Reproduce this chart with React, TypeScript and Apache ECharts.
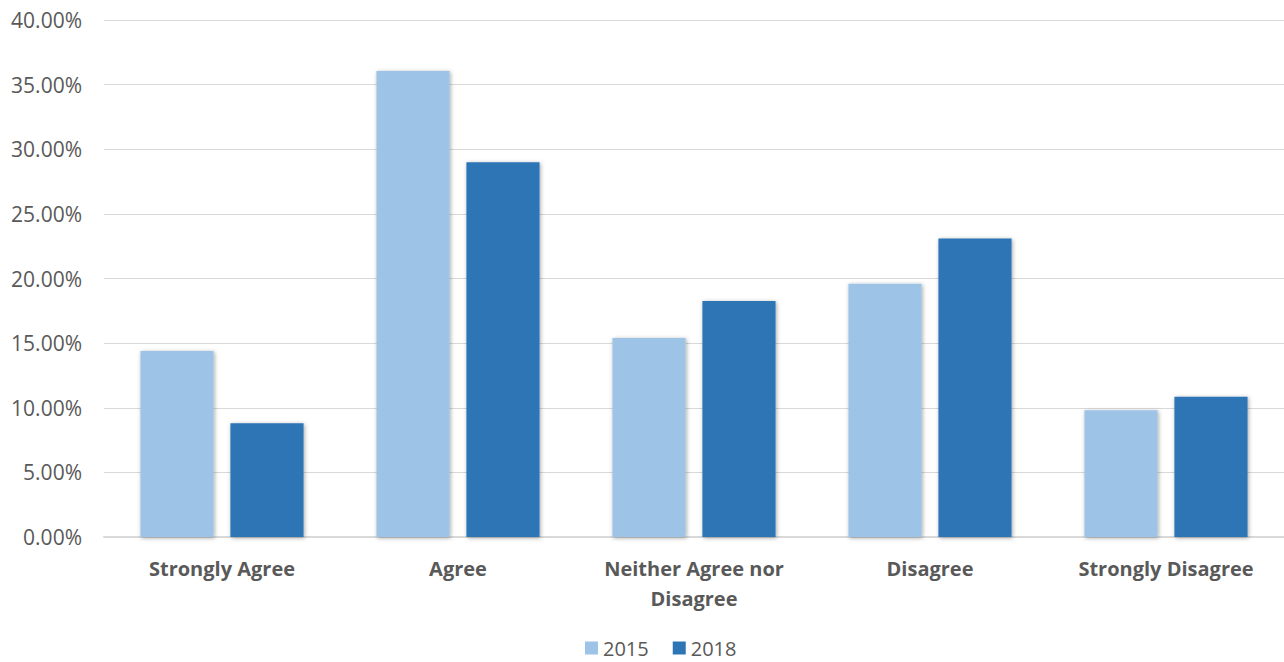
import React, { useEffect, useRef } from "react";
import * as echarts from "echarts";

const categories = ["Strongly Agree", "Agree", "Neither Agree nor\nDisagree", "Disagree", "Strongly Disagree"];
const seriesNames = ["2015", "2018"];
const values2015 = [14.4, 36.05, 15.4, 19.6, 9.8];
const values2018 = [8.8, 29.0, 18.25, 23.1, 10.85];
const colors = ["#9DC3E6", "#2E75B6"];

export default function App() {
  const ref = useRef<HTMLDivElement>(null);
  useEffect(() => {
    const chart = echarts.init(ref.current!, null, { renderer: "svg" });
    const font = "'Open Sans', Lato, sans-serif";
    const shadow = {
      shadowBlur: 4,
      shadowColor: "rgba(0,0,0,0.35)",
      shadowOffsetX: 1,
      shadowOffsetY: 1,
    };
    chart.setOption({
      animation: false,
      textStyle: { fontFamily: font },
      grid: { left: 104, right: 0, top: 20, bottom: 125, containLabel: false },
      legend: {
        bottom: -1,
        left: 580,
        itemWidth: 13,
        itemHeight: 13,
        itemGap: 24,
        icon: "rect",
        textStyle: { fontSize: 20, color: "#595959", fontFamily: font },
        data: seriesNames,
      },
      xAxis: {
        type: "category",
        data: categories,
        axisTick: { show: false },
        axisLine: { lineStyle: { color: "#D9D9D9", width: 2 } },
        axisLabel: {
          interval: 0,
          margin: 16,
          fontSize: 20,
          fontWeight: "bold",
          color: "#595959",
          lineHeight: 30,
          fontFamily: font,
        },
      },
      yAxis: {
        type: "value",
        min: 0,
        max: 40,
        interval: 5,
        axisLine: { show: false },
        axisTick: { show: false },
        splitLine: { lineStyle: { color: "#D9D9D9", width: 1 } },
        axisLabel: {
          fontSize: 21,
          color: "#595959",
          margin: 22,
          fontFamily: font,
          formatter: (v: number) => v.toFixed(2) + "%",
        },
      },
      series: [
        {
          name: seriesNames[0],
          type: "bar",
          data: values2015,
          barWidth: "31%",
          barGap: "23%",
          itemStyle: { color: colors[0], ...shadow },
        },
        {
          name: seriesNames[1],
          type: "bar",
          data: values2018,
          barWidth: "31%",
          barGap: "23%",
          itemStyle: { color: colors[1], ...shadow },
        },
      ],
    });
    return () => chart.dispose();
  }, []);
  return (
    <div
      ref={ref}
      style={{ position: "fixed", left: 0, top: 0, width: 1284, height: 662, background: "#fff" }}
    />
  );
}
